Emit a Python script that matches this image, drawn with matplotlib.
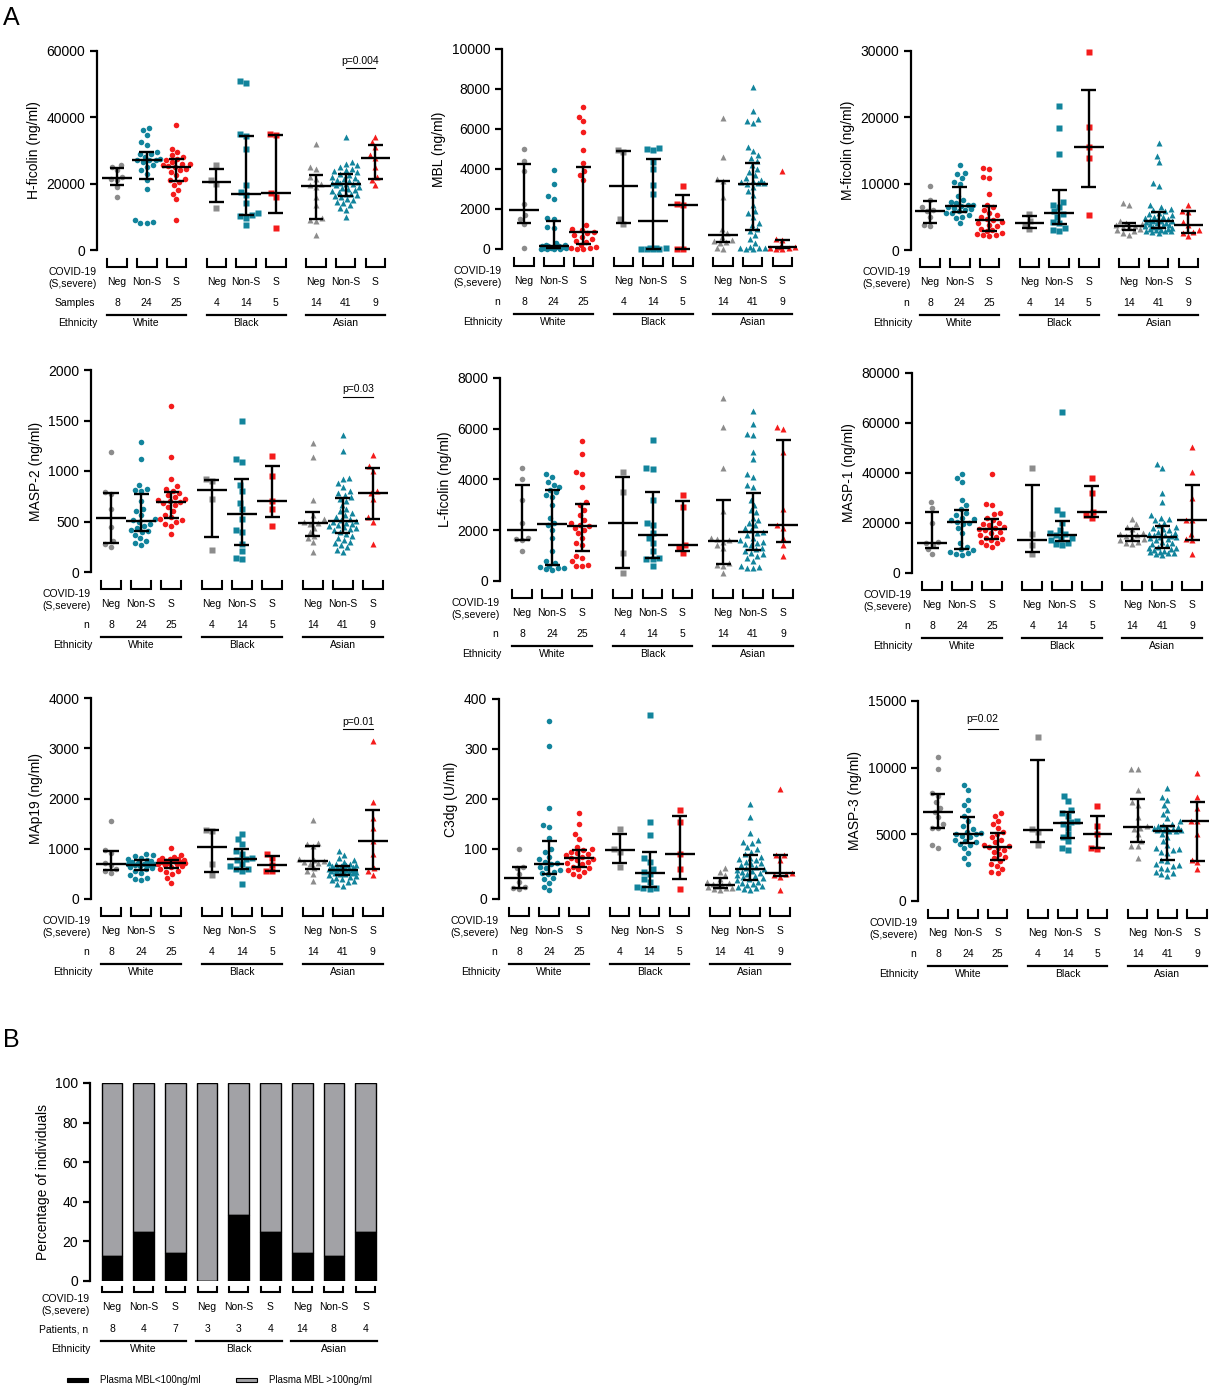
import numpy as np
import matplotlib
matplotlib.use('Agg')
import matplotlib.pyplot as plt
import matplotlib.transforms as mtransforms

plt.rcParams['font.family'] = ['Liberation Sans', 'DejaVu Sans']

W, H = 1209, 1387

# group order: White Neg, Non-S, S | Black Neg, Non-S, S | Asian Neg, Non-S, S
POS = [0, 1, 2, 3.35, 4.35, 5.35, 6.7, 7.7, 8.7]
STATUS = ['Neg', 'Non-S', 'S'] * 3
ETHNICITY = ['White', 'Black', 'Asian']
N_SAMPLES = [8, 24, 25, 4, 14, 5, 14, 41, 9]

H_FICOLIN = [
    [25500, 25000, 24000, 22000, 21500, 21000, 19000, 16000],
    [36800, 36000, 34500, 32500, 31500, 29500, 29000, 28800, 28000, 27500, 27200, 27000, 27000, 26500,
     25500, 25000, 24000, 23000, 21000, 18500, 9000, 8500, 8200, 8000],
    [37500, 30500, 29500, 28500, 28000, 27500, 27000, 26500, 26000, 25800, 25500, 25200, 25000, 24500,
     24000, 23500, 22500, 21500, 21000, 20500, 19500, 18000, 17000, 15500, 9000],
    [25500, 21000, 20000, 12500],
    [51000, 50200, 34800, 34300, 30500, 19500, 17500, 16500, 14000, 11000, 10500, 10200, 9500, 7500],
    [34800, 34500, 17300, 16000, 6500],
    [31800, 25000, 24500, 22000, 21500, 20000, 19500, 19000, 16000, 13500, 9500, 9000, 8700, 4500],
    [34000, 26500, 26000, 25500, 25000, 24500, 24000, 23800, 23500, 23000, 22500, 22000, 21800, 21500,
     21000, 20800, 20500, 20300, 20200, 20000, 19800, 19500, 19000, 18800, 18500, 18000, 17800, 17500,
     17000, 16800, 16500, 16300, 16000, 15500, 15000, 14500, 14000, 13500, 12500, 12000, 10000],
    [34000, 32500, 31000, 28500, 27800, 25000, 22000, 21000, 19500],
]

MBL = [
    [5000, 4400, 3900, 2250, 1700, 1500, 1250, 30],
    [3950, 3250, 2650, 2500, 1550, 1500, 1100, 1050, 300, 200, 180, 160, 150, 140, 120, 100, 80, 60,
     40, 30, 20, 10, 10, 0],
    [7100, 6600, 6400, 5850, 4950, 4300, 3900, 3700, 3450, 1200, 1000, 950, 850, 800, 700, 600, 500,
     400, 350, 200, 100, 50, 30, 20, 10],
    [4950, 4850, 1500, 1250],
    [5050, 5000, 4950, 4350, 4000, 3200, 2750, 50, 40, 30, 20, 10, 5, 0],
    [3150, 2250, 2200, 20, 10],
    [6550, 4600, 3500, 3400, 2600, 1000, 800, 600, 450, 400, 350, 300, 30, 20],
    [8100, 6900, 6500, 6400, 6300, 5100, 4900, 4700, 4550, 4400, 4200, 4000, 3850, 3700, 3550, 3450,
     3400, 3350, 3300, 3280, 3250, 3100, 2900, 2700, 2200, 1900, 1800, 1600, 1300, 1200, 1000, 900,
     700, 500, 300, 100, 50, 40, 30, 20, 10],
    [3900, 500, 450, 100, 80, 60, 40, 20, 10],
]

M_FICOLIN = [
    [9700, 7600, 6500, 6000, 5800, 5000, 3700, 3600],
    [12800, 11600, 11500, 10800, 10200, 9900, 8100, 7500, 7200, 7000, 6800, 6700, 6600, 6500, 6300,
     6200, 6000, 5800, 5600, 5500, 5200, 5000, 4800, 4000],
    [12300, 12200, 11000, 10900, 8400, 6800, 6400, 6000, 5600, 5200, 4900, 4700, 4500, 4200, 4000,
     3800, 3600, 3200, 3000, 2800, 2500, 2400, 2300, 2200, 2100],
    [5400, 4400, 3800, 3100],
    [21700, 18300, 14500, 7300, 6800, 6500, 5800, 5400, 5000, 4200, 4100, 3300, 3000, 2900],
    [29800, 18500, 15500, 13800, 5300],
    [7000, 6800, 4300, 4000, 3900, 3700, 3600, 3500, 3400, 3200, 3000, 2800, 2500, 2300],
    [16100, 14100, 13200, 10100, 9700, 6800, 6500, 6200, 6000, 5800, 5600, 5400, 5200, 5000, 4900,
     4800, 4700, 4600, 4500, 4400, 4400, 4300, 4200, 4100, 4000, 3900, 3800, 3700, 3600, 3500, 3400,
     3300, 3200, 3100, 3000, 3000, 2900, 2800, 2800, 2700, 2600],
    [6800, 5900, 5700, 4200, 3700, 3000, 2700, 2500, 2100],
]

MASP2 = [
    [1190, 790, 770, 620, 450, 310, 280, 250],
    [1290, 1120, 860, 820, 810, 800, 700, 620, 600, 560, 520, 510, 500, 480, 460, 440, 420, 410, 400,
     370, 340, 310, 290, 270],
    [1640, 1140, 920, 850, 820, 800, 780, 760, 740, 720, 710, 700, 690, 680, 660, 640, 600, 560, 540,
     520, 510, 500, 480, 460, 380],
    [920, 900, 720, 220],
    [1500, 1120, 1090, 860, 800, 680, 620, 520, 420, 400, 280, 210, 140, 130],
    [1150, 950, 700, 620, 460],
    [1280, 1140, 710, 560, 520, 500, 490, 480, 440, 400, 360, 340, 300, 200],
    [1360, 1200, 930, 920, 880, 840, 800, 780, 760, 740, 720, 700, 660, 620, 600, 580, 560, 540, 520,
     510, 505, 500, 490, 480, 470, 460, 450, 440, 430, 420, 400, 380, 360, 340, 320, 300, 290, 270,
     250, 220, 200],
    [1160, 1050, 1000, 800, 780, 720, 540, 500, 280],
]

L_FICOLIN = [
    [4450, 4000, 3200, 2300, 1700, 1650, 1600, 1200],
    [4200, 4100, 3900, 3800, 3700, 3600, 3500, 3400, 3300, 3000, 2500, 2300, 2200, 2000, 1700, 1200,
     800, 700, 600, 550, 500, 500, 480, 450],
    [5500, 5000, 4300, 4200, 3700, 3100, 3000, 2800, 2600, 2400, 2300, 2200, 2150, 2100, 2000, 1900,
     1700, 1500, 1400, 1000, 900, 800, 650, 600, 600],
    [4300, 3500, 1100, 300],
    [5550, 4450, 4400, 3200, 2300, 2200, 1900, 1700, 1500, 1200, 900, 850, 850, 600],
    [3400, 2900, 1400, 1300, 1100],
    [7200, 6050, 4450, 2750, 1700, 1650, 1600, 1550, 1400, 1300, 700, 650, 600, 300],
    [6700, 6200, 5800, 5750, 5100, 4800, 4200, 4100, 3800, 3700, 3200, 3000, 2800, 2700, 2500, 2400,
     2300, 2200, 2100, 2000, 1950, 1900, 1800, 1700, 1600, 1550, 1500, 1450, 1400, 1300, 1250, 1200,
     1100, 1050, 1000, 900, 800, 600, 550, 500, 500],
    [6050, 6000, 5100, 2850, 2200, 2100, 1700, 1400, 1000],
]

MASP1 = [
    [28500, 26000, 20000, 12500, 11800, 11000, 9500, 7500],
    [39500, 38000, 36500, 29000, 27000, 25500, 24000, 23000, 22000, 21500, 21000, 20500, 20000, 19500,
     18000, 16000, 12000, 10500, 9500, 9000, 8500, 8000, 7500, 7000],
    [39500, 27500, 27000, 24000, 23500, 22000, 21000, 20000, 19500, 19000, 18500, 18000, 17500, 17000,
     16500, 16000, 15000, 14500, 14000, 13500, 13000, 12500, 12000, 11000, 10500],
    [42000, 15500, 11000, 7500],
    [64500, 25000, 23500, 20000, 17000, 16000, 15500, 15000, 14000, 13500, 13000, 12000, 11500, 11000],
    [37800, 32000, 24500, 23000, 22000],
    [21500, 19500, 18500, 17500, 16000, 15500, 15000, 14800, 14000, 13500, 13000, 12500, 12000, 11500],
    [43500, 42000, 32000, 28500, 23000, 22000, 21500, 21000, 20000, 19000, 18500, 18000, 17500, 17000,
     16500, 16000, 15500, 15200, 15000, 14800, 14500, 14200, 14000, 13500, 13000, 12500, 12000, 11500,
     11000, 10500, 10000, 9800, 9500, 9000, 8800, 8500, 8200, 8000, 7800, 7500, 7000],
    [50500, 40500, 30000, 21000, 21000, 15500, 13500, 13000, 7500],
]

MAP19 = [
    [1550, 980, 920, 720, 680, 600, 560, 520],
    [900, 880, 850, 820, 800, 780, 760, 740, 720, 700, 700, 690, 680, 670, 650, 640, 620, 600, 560,
     520, 480, 420, 400, 380],
    [1010, 880, 840, 820, 800, 790, 780, 770, 760, 750, 740, 730, 720, 710, 700, 690, 680, 660, 640,
     600, 560, 540, 500, 420, 320],
    [1380, 1350, 700, 470],
    [1300, 1200, 1100, 960, 900, 820, 800, 780, 700, 650, 600, 600, 550, 300],
    [900, 820, 680, 560, 550],
    [1580, 1120, 1100, 1050, 800, 780, 760, 740, 720, 700, 620, 560, 500, 350],
    [950, 880, 820, 780, 740, 720, 700, 690, 680, 670, 660, 650, 640, 630, 620, 610, 600, 600, 590,
     590, 580, 570, 560, 560, 550, 540, 530, 520, 510, 500, 490, 480, 460, 440, 420, 400, 380, 360,
     340, 300, 260],
    [3150, 1930, 1620, 1420, 1150, 900, 620, 560, 480],
]

C3DG = [
    [100, 65, 62, 50, 35, 25, 22, 20],
    [357, 307, 182, 148, 145, 122, 100, 95, 85, 80, 75, 72, 70, 65, 62, 58, 55, 52, 50, 42, 40, 32,
     25, 18],
    [172, 150, 130, 120, 105, 100, 98, 95, 92, 90, 88, 85, 82, 80, 78, 75, 72, 70, 65, 62, 60, 58, 55,
     50, 47],
    [140, 100, 95, 65],
    [368, 155, 128, 82, 75, 60, 55, 50, 40, 35, 25, 22, 22, 20],
    [178, 155, 90, 60, 20],
    [62, 55, 48, 40, 35, 32, 30, 28, 26, 25, 23, 22, 20, 18],
    [190, 165, 133, 118, 115, 112, 105, 100, 95, 90, 85, 82, 80, 78, 75, 72, 70, 68, 65, 62, 60, 58,
     56, 54, 52, 50, 48, 46, 44, 42, 40, 38, 35, 32, 30, 28, 26, 24, 22, 20, 18],
    [220, 88, 88, 78, 52, 50, 48, 45, 18],
]

MASP3 = [
    [10800, 9900, 8100, 7900, 7400, 7000, 6700, 6300, 5800, 5500, 5500, 4200, 4000],
    [8700, 8300, 7600, 7200, 6800, 6400, 6000, 5600, 5400, 5200, 5100, 5000, 5000, 4900, 4800, 4600,
     4500, 4400, 4300, 4200, 4000, 3600, 3200, 2800],
    [6600, 6400, 6000, 5800, 5500, 5200, 5000, 4800, 4600, 4400, 4200, 4100, 4050, 4000, 3800, 3700,
     3500, 3300, 3200, 3000, 2800, 2600, 2400, 2200, 2100],
    [12300, 5400, 5200, 4200],
    [7900, 7500, 6800, 6600, 6400, 6000, 5900, 5800, 5500, 5000, 4800, 4500, 4000, 3800],
    [7100, 5600, 5000, 4000, 3900],
    [9900, 9900, 8300, 7400, 7200, 6300, 5600, 5500, 5400, 5000, 4500, 4100, 4100, 3200],
    [8500, 7800, 7600, 7200, 6800, 6500, 6200, 6000, 5800, 5700, 5600, 5550, 5500, 5450, 5400, 5380,
     5350, 5320, 5300, 5280, 5250, 5000, 4800, 4500, 4200, 4000, 3900, 3800, 3700, 3600, 3100, 3000,
     2800, 2700, 2600, 2500, 2400, 2200, 2100, 2000, 1900],
    [9600, 7800, 7000, 6000, 6000, 5000, 3100, 2900, 2400],
]

# panel B
N_PATIENTS = [8, 4, 7, 3, 3, 4, 14, 8, 4]
MBL_LOW_PCT = [12.5, 25, 14.3, 0, 33.3, 25, 14.3, 12.5, 25]

COLORS = {'Neg': '#8c8c8c', 'Non-S': '#12849c', 'S': '#f41c1c'}
MARKERS = ['o', 's', '^']
MSIZE = {'o': 4.0, 's': 3.7, '^': 4.4}


def fy(py):
    return 1 - py / H


def swarm(ys, d, maxw):
    # beeswarm offsets in pixels, limited to +-maxw (points overlap beyond that)
    xs = np.zeros(len(ys))
    placed = []
    grid = np.linspace(-maxw, maxw, 31)
    for i in np.argsort(ys):
        y = ys[i]
        ints = []
        for px, py in placed:
            dy = abs(py - y)
            if dy < d:
                w = np.sqrt(d * d - dy * dy)
                ints.append((px - w, px + w))
        cands = [0.0] + [a for a, b in ints] + [b for a, b in ints]
        cands = sorted([c for c in cands if abs(c) <= maxw + 1e-6], key=abs)
        best = None
        for c in cands:
            if all(not (a + 1e-6 < c < b - 1e-6) for a, b in ints):
                best = c
                break
        if best is None:
            pts = np.array(placed)
            dist = np.array([np.min(np.hypot(pts[:, 0] - gx, pts[:, 1] - y)) for gx in grid])
            best = grid[np.argmax(dist - 1e-3 * np.abs(grid))]
        xs[i] = best
        placed.append((best, y))
    return xs


fig = plt.figure(figsize=(W / 100, H / 100), dpi=100)


def make_axes(axis_x, c0, sp, y0, ytop, xmax):
    ax = fig.add_axes([axis_x / W, 1 - y0 / H, (c0 + sp * xmax - axis_x) / W, (y0 - ytop) / H])
    ax.set_xlim((axis_x - c0) / sp, xmax)
    for s in ['top', 'right', 'bottom']:
        ax.spines[s].set_visible(False)
    ax.spines['left'].set_linewidth(1.6)
    ax.set_xticks([])
    ax.tick_params(axis='y', direction='out', length=5, width=1.6, labelsize=10)
    ax.set_facecolor('none')
    return ax


def group_rows(ax, axis_x, y0, pos, nvals, nlabel, off, bw, bh, ew):
    tr = mtransforms.blended_transform_factory(ax.transData, fig.transFigure)
    for p, st, n in zip(pos, STATUS, nvals):
        ax.plot([p - bw, p - bw, p + bw, p + bw], [fy(y0 + off[0]), fy(y0 + off[0] + bh),
                fy(y0 + off[0] + bh), fy(y0 + off[0])], color='k', lw=1.5,
                transform=tr, clip_on=False, solid_joinstyle='miter')
        ax.text(p, fy(y0 + off[2]), st, transform=tr, ha='center', va='center', fontsize=7.5)
        ax.text(p, fy(y0 + off[3]), str(n), transform=tr, ha='center', va='center', fontsize=7.5)
    for k, eth in enumerate(ETHNICITY):
        a, b = pos[3 * k] - ew, pos[3 * k + 2] + ew
        ax.plot([a, b], [fy(y0 + off[4])] * 2, color='k', lw=1.6, transform=tr, clip_on=False)
        ax.text((a + b) / 2, fy(y0 + off[5]), eth, transform=tr, ha='center', va='center', fontsize=7.5)
    lx = axis_x / W
    fig.text(lx, fy(y0 + off[1]), 'COVID-19\n(S,severe)', ha='right', va='center', fontsize=7.5,
             linespacing=1.25)
    fig.text(lx - 2 / W, fy(y0 + off[3]), nlabel, ha='right', va='center', fontsize=7.5)
    fig.text(lx + 1 / W, fy(y0 + off[5]), 'Ethnicity', ha='right', va='center', fontsize=7.5)


def scatter_panel(geom, groups, ymax, ystep, ylabel, nlabel='n', pval=None):
    axis_x, c0, sp, y0, ytop = geom
    ax = make_axes(axis_x, c0, sp, y0, ytop, 9.3)
    ax.set_ylim(0, ymax)
    ax.set_yticks(np.arange(0, ymax + 1, ystep))
    ax.set_ylabel(ylabel, fontsize=10)
    ppu = (y0 - ytop) / ymax
    for g, (p, st, vals) in enumerate(zip(POS, STATUS, groups)):
        v = np.array(vals, dtype=float)
        dx = swarm(v * ppu, 6.3, 0.45 * sp) / sp
        m = MARKERS[g // 3]
        ax.plot(p + dx, v, ls='none', marker=m, ms=MSIZE[m], color=COLORS[st], mec='none',
                clip_on=False, zorder=2)
        # median with interquartile range (GraphPad-style quantiles)
        q1, med, q3 = np.percentile(v, [25, 50, 75], method='weibull')
        kw = dict(color='k', lw=1.7, zorder=3, clip_on=False, solid_capstyle='butt')
        ax.plot([p - 0.5, p + 0.5], [med, med], **kw)
        ax.plot([p, p], [q1, q3], **kw)
        ax.plot([p - 0.25, p + 0.25], [q1, q1], **kw)
        ax.plot([p - 0.25, p + 0.25], [q3, q3], **kw)
    if pval:
        txt, g1, g2, ty, ly = pval
        tr = mtransforms.blended_transform_factory(ax.transData, fig.transFigure)
        ax.plot([POS[g1], POS[g2]], [fy(ly)] * 2, color='k', lw=0.8, transform=tr, clip_on=False)
        ax.text((POS[g1] + POS[g2]) / 2, fy(ty), txt, transform=tr, ha='center', va='center',
                fontsize=7.5)
    group_rows(ax, axis_x, y0, POS, N_SAMPLES, nlabel, (9, 28, 32, 53, 65, 73), 0.33, 8, 0.33)
    return ax


scatter_panel((97, 117, 29.7, 250, 50.7), H_FICOLIN, 60000, 20000, 'H-ficolin (ng/ml)', 'Samples',
              ('p=0.004', 7, 8, 61, 68))
scatter_panel((502, 524, 29.7, 249, 49), MBL, 10000, 2000, 'MBL (ng/ml)')
scatter_panel((911, 930, 29.7, 250, 50.7), M_FICOLIN, 30000, 10000, 'M-ficolin (ng/ml)')
scatter_panel((91, 111, 30.1, 572, 370), MASP2, 2000, 500, 'MASP-2 (ng/ml)',
              pval=('p=0.03', 7, 8, 389, 397))
scatter_panel((500, 522, 30.0, 581, 378), L_FICOLIN, 8000, 2000, 'L-ficolin (ng/ml)')
scatter_panel((912, 932, 29.9, 573, 373), MASP1, 80000, 20000, 'MASP-1 (ng/ml)')
scatter_panel((91, 111, 30.1, 899, 698), MAP19, 4000, 1000, 'MAp19 (ng/ml)',
              pval=('p=0.01', 7, 8, 722, 729))
scatter_panel((499, 519, 30.0, 899, 699), C3DG, 400, 100, 'C3dg (U/ml)')
scatter_panel((918, 938, 29.8, 901, 701), MASP3, 15000, 5000, 'MASP-3 (ng/ml)',
              pval=('p=0.02', 1, 2, 719, 729))

# panel B: stacked percentage bars
bpos = np.arange(9)
axb = make_axes(90, 112, 31.7, 1281, 1083, 8.45)
axb.set_ylim(0, 100)
axb.set_yticks(np.arange(0, 101, 20))
axb.set_ylabel('Percentage of individuals', fontsize=10)
low = np.array(MBL_LOW_PCT)
axb.bar(bpos, 100 - low, bottom=low, width=0.65, color='#a2a2a6', edgecolor='k', lw=1)
axb.bar(bpos, low, width=0.65, color='k', edgecolor='k', lw=1)
group_rows(axb, 90, 1281, bpos, N_PATIENTS, 'Patients, n', (6, 24, 26, 48, 60, 68), 0.3, 5, 0.35)

fig.patches.append(plt.Rectangle((67 / W, fy(1382)), 21 / W, 4 / H, transform=fig.transFigure,
                                 facecolor='k', edgecolor='k', lw=0.8))
fig.text(100 / W, fy(1380), 'Plasma MBL<100ng/ml', ha='left', va='center', fontsize=7)
fig.patches.append(plt.Rectangle((236 / W, fy(1382)), 21 / W, 4 / H, transform=fig.transFigure,
                                 facecolor='#a2a2a6', edgecolor='k', lw=0.8))
fig.text(269 / W, fy(1380), 'Plasma MBL >100ng/ml', ha='left', va='center', fontsize=7)

fig.text(3 / W, fy(18), 'A', fontsize=18, va='center', ha='left')
fig.text(3 / W, fy(1040), 'B', fontsize=18, va='center', ha='left')

fig.savefig('out.png', dpi=100)
